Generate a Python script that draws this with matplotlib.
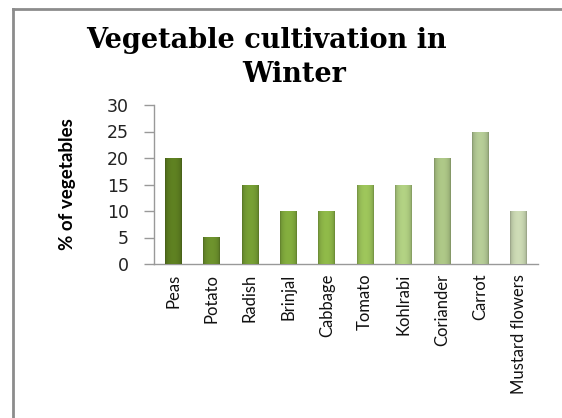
import matplotlib
matplotlib.use("Agg")
import matplotlib.pyplot as plt
import numpy as np
from matplotlib.colors import to_rgb
from matplotlib.lines import Line2D

categories = ["Peas", "Potato", "Radish", "Brinjal", "Cabbage", "Tomato",
              "Kohlrabi", "Coriander", "Carrot", "Mustard flowers"]
values = [20, 5, 15, 10, 10, 15, 15, 20, 25, 10]
colors = ["#58781f", "#66892a", "#6f9531", "#7ba23a", "#86ad44", "#93b855",
          "#a6c37a", "#a2ba7e", "#aabf8d", "#bfcca9"]
yticks = [0, 5, 10, 15, 20, 25, 30]

fig = plt.figure(figsize=(5.62, 4.18), dpi=100)
W, H = 562, 418
ax = fig.add_axes([154 / W, 1 - 264 / H, (538 - 154) / W, (264 - 105) / H])

x = np.arange(len(categories))
bw = 0.44
bars = ax.bar(x, values, width=bw, color=colors, zorder=2)
for b, c in zip(bars, colors):
    base = np.array(to_rgb(c))
    t = np.linspace(0, 1, 64)
    prof = 0.70 + 0.38 * np.sin(np.pi * t) ** 0.35
    img = np.clip(base[None, :] * prof[:, None], 0, 1)[None, :, :]
    im = ax.imshow(img, extent=[b.get_x(), b.get_x() + b.get_width(), 0, b.get_height()],
                   aspect="auto", zorder=3, interpolation="bilinear")
    im.set_clip_path(b)

ax.set_xlim(-0.5, len(categories) - 0.5)
ax.set_ylim(0, 30)
ax.set_yticks(yticks)
ax.set_yticklabels([str(v) for v in yticks], fontsize=12.5, family="DejaVu Sans", color="#222222")
ax.set_xticks(x)
ax.set_xticklabels(categories, rotation=90, fontsize=12,
                   family=["Lato", "DejaVu Sans"], color="#111111")
ax.tick_params(axis="x", length=0, pad=7)
ax.tick_params(axis="y", length=7, color="#999999", width=1, pad=11)
for s in ["top", "right"]:
    ax.spines[s].set_visible(False)
for s in ["left", "bottom"]:
    ax.spines[s].set_color("#999999")
    ax.spines[s].set_linewidth(1)
ax.set_ylabel("% of vegetables", fontsize=13.5, fontweight="bold",
              family=["Lato", "DejaVu Sans"], labelpad=22)

fig.text(266 / W, 1 - 41 / H, "Vegetable cultivation in", ha="center", va="center",
         fontsize=19.5, fontweight="bold", family="DejaVu Serif")
fig.text(294 / W, 1 - 75 / H, "Winter", ha="center", va="center",
         fontsize=19.5, fontweight="bold", family="DejaVu Serif")

# outer frame (left and top edges)
fig.add_artist(Line2D([12.5 / W, 12.5 / W], [0, 1 - 8.5 / H], transform=fig.transFigure,
                      color="#8c8c8c", lw=2))
fig.add_artist(Line2D([12.5 / W, 1], [1 - 8.5 / H, 1 - 8.5 / H], transform=fig.transFigure,
                      color="#8c8c8c", lw=2))

fig.savefig("out.png", dpi=100)
